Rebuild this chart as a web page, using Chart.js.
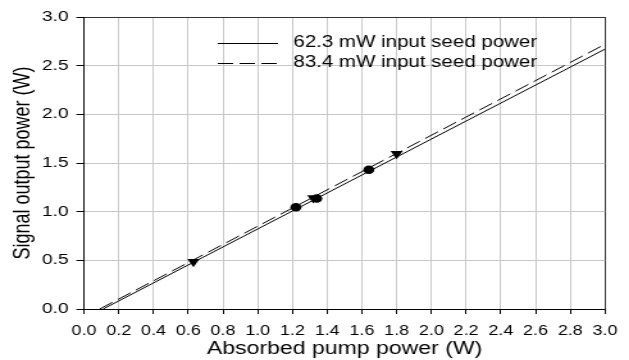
<!DOCTYPE html>
<html>
<head>
<meta charset="utf-8">
<script src="https://cdn.jsdelivr.net/npm/chart.js@4/dist/chart.umd.min.js"></script>
<style>
  html, body { margin: 0; padding: 0; background: #fff; overflow: hidden; }
  /* o grafico original foi esticado na horizontal, entao estico o canvas tambem */
  #grafico { display: block; transform: scaleX(1.2811); transform-origin: 0 0; }
</style>
</head>
<body>
<canvas id="grafico" width="491" height="360"></canvas>
<script>
// legendas das series
var legendas = ['62.3 mW input seed power', '83.4 mW input seed power'];

// retas de ajuste (inicio e fim)
var ajusteX62 = [0.11, 3.0];
var ajusteY62 = [0, 2.67];
var ajusteX83 = [0.09, 3.0];
var ajusteY83 = [0, 2.72];

// pontos medidos
var medidoX62 = [1.22, 1.34, 1.64];
var medidoY62 = [1.045, 1.135, 1.43];
var medidoX83 = [0.63, 1.32, 1.80];
var medidoY83 = [0.485, 1.14, 1.595];

// ticks dos eixos
var ticksX = [0, 0.2, 0.4, 0.6, 0.8, 1.0, 1.2, 1.4, 1.6, 1.8, 2.0, 2.2, 2.4, 2.6, 2.8, 3.0];
var ticksY = [0, 0.5, 1.0, 1.5, 2.0, 2.5, 3.0];

var fonte = '"Liberation Sans", Arial, sans-serif';

function juntarPontos(xs, ys) {
  var pontos = [];
  for (var i = 0; i < xs.length; i++) {
    pontos.push({ x: xs[i], y: ys[i] });
  }
  return pontos;
}

function corGrade(ctx) {
  // ultima linha (3.0) faz a borda de cima / da direita
  if (ctx.tick && ctx.tick.value === 3) return '#333333';
  return '#c8c8c8';
}

// legenda desenhada dentro da area do grafico
var legendaInterna = {
  id: 'legendaInterna',
  afterDraw: function (chart) {
    var c = chart.ctx;
    var linhas = [43, 63];
    c.save();
    c.font = '16px ' + fonte;
    c.fillStyle = '#000';
    c.textBaseline = 'middle';
    c.textAlign = 'left';
    for (var i = 0; i < 2; i++) {
      var ds = chart.data.datasets[i];
      c.beginPath();
      c.strokeStyle = '#000';
      c.lineWidth = 1;
      c.setLineDash(ds.borderDash || []);
      c.moveTo(170, linhas[i] + 0.5);
      c.lineTo(217, linhas[i] + 0.5);
      c.stroke();
      c.setLineDash([]);
      c.fillText(ds.label, 229, linhas[i]);
    }
    c.restore();
  }
};

var dados = {
  datasets: [{
    label: legendas[0],
    data: juntarPontos(ajusteX62, ajusteY62),
    showLine: true,
    borderColor: '#000',
    borderWidth: 1,
    pointRadius: 0,
    order: 2
  }, {
    label: legendas[1],
    data: juntarPontos(ajusteX83, ajusteY83),
    showLine: true,
    borderColor: '#000',
    borderWidth: 1,
    borderDash: [12, 5],
    pointRadius: 0,
    order: 2
  }, {
    label: 'medido 62.3',
    data: juntarPontos(medidoX62, medidoY62),
    showLine: false,
    pointStyle: 'circle',
    pointRadius: 4.3,
    backgroundColor: '#000',
    borderColor: '#000',
    borderWidth: 0,
    order: 0
  }, {
    label: 'medido 83.4',
    data: juntarPontos(medidoX83, medidoY83),
    showLine: false,
    pointStyle: 'triangle',
    rotation: 180,
    pointRadius: 5.5,
    backgroundColor: '#000',
    borderColor: '#000',
    borderWidth: 0,
    order: 1
  }]
};

var config = {
  type: 'scatter',
  data: dados,
  options: {
    responsive: false,
    animation: false,
    devicePixelRatio: 1,
    layout: { padding: { top: 17, right: 18.7, left: 0, bottom: 0 } },
    plugins: {
      legend: { display: false },
      tooltip: { enabled: false }
    },
    scales: {
      x: {
        type: 'linear',
        min: 0,
        max: 3,
        afterBuildTicks: function (scale) {
          scale.ticks = ticksX.map(function (v) { return { value: v }; });
        },
        afterFit: function (scale) { scale.height = 51; },
        grid: { color: corGrade, lineWidth: 1, tickColor: '#000', tickLength: 5 },
        border: { color: '#000', width: 1 },
        ticks: {
          color: '#000',
          font: { family: fonte, size: 14 },
          padding: 9,
          maxRotation: 0,
          autoSkip: false,
          callback: function (v) { return Number(v).toFixed(1); }
        },
        title: {
          display: true,
          text: 'Absorbed pump power (W)',
          color: '#000',
          font: { family: fonte, size: 18 },
          padding: { top: 0, bottom: 0 }
        }
      },
      y: {
        type: 'linear',
        min: 0,
        max: 3,
        afterBuildTicks: function (scale) {
          scale.ticks = ticksY.map(function (v) { return { value: v }; });
        },
        afterFit: function (scale) { scale.width = 65.6; },
        grid: { color: corGrade, lineWidth: 1, tickColor: '#000', tickLength: 6 },
        border: { color: '#000', width: 1 },
        ticks: {
          color: '#000',
          font: { family: fonte, size: 15 },
          padding: 6,
          autoSkip: false,
          callback: function (v) { return Number(v).toFixed(1); }
        },
        title: {
          display: true,
          text: 'Signal output power (W)',
          color: '#000',
          font: { family: fonte, size: 18 },
          padding: { top: 7, bottom: 0 }
        }
      }
    }
  },
  plugins: [legendaInterna]
};

var grafico = new Chart(document.getElementById('grafico'), config);
</script>
</body>
</html>
